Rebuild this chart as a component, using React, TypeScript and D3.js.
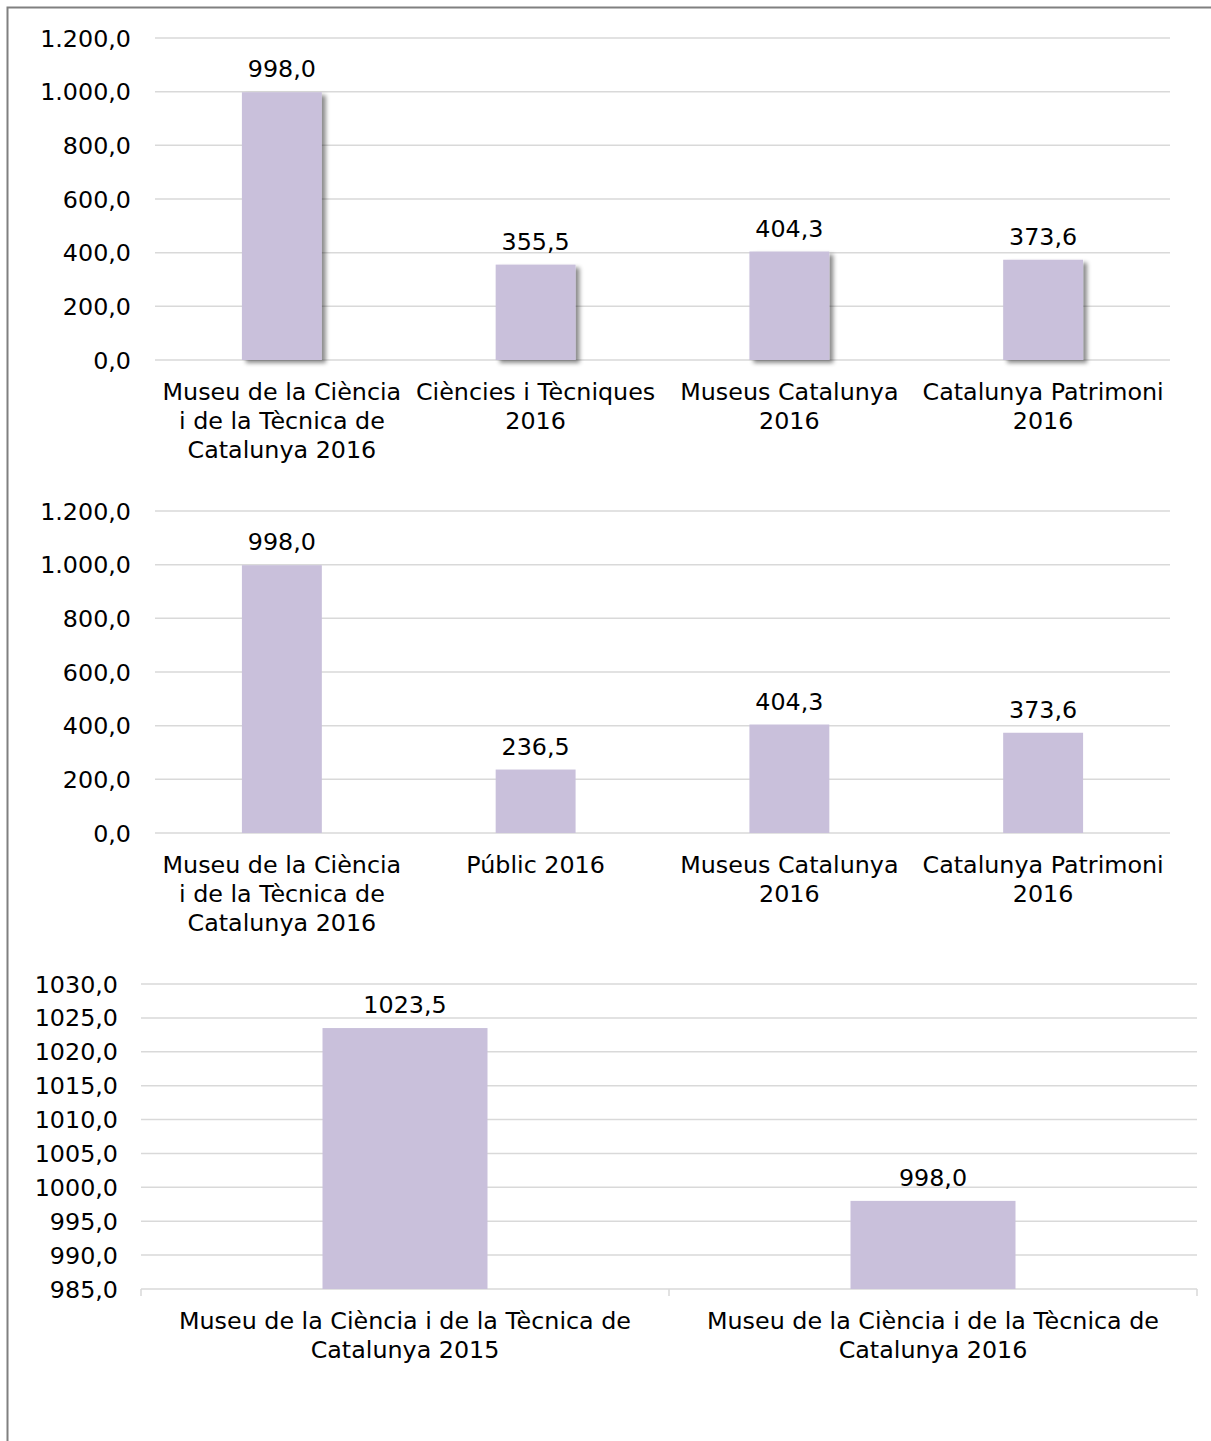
import React from "react";
import * as d3 from "d3";

// ---- data ----
const chart1Categories: string[][] = [
  ["Museu de la Ciència", "i de la Tècnica de", "Catalunya 2016"],
  ["Ciències i Tècniques", "2016"],
  ["Museus Catalunya", "2016"],
  ["Catalunya Patrimoni", "2016"],
];
const chart1Values = [998.0, 355.5, 404.3, 373.6];
const chart1Ticks = [0, 200, 400, 600, 800, 1000, 1200];

const chart2Categories: string[][] = [
  ["Museu de la Ciència", "i de la Tècnica de", "Catalunya 2016"],
  ["Públic 2016"],
  ["Museus Catalunya", "2016"],
  ["Catalunya Patrimoni", "2016"],
];
const chart2Values = [998.0, 236.5, 404.3, 373.6];
const chart2Ticks = [0, 200, 400, 600, 800, 1000, 1200];

const chart3Categories: string[][] = [
  ["Museu de la Ciència i de la Tècnica de", "Catalunya 2015"],
  ["Museu de la Ciència i de la Tècnica de", "Catalunya 2016"],
];
const chart3Values = [1023.5, 998.0];
const chart3Ticks = [985, 990, 995, 1000, 1005, 1010, 1015, 1020, 1025, 1030];

const locale = d3.formatLocale({
  decimal: ",",
  thousands: ".",
  grouping: [3],
  currency: ["", "€"],
});
const fmtGrouped = locale.format(",.1f");
const fmtPlain = locale.format(".1f");

const FONT = "'DejaVu Sans', Verdana, sans-serif";
const FS = 23.8;
const BAR = "#C9C0DB";
const GRID = "#D9D9D9";

type ChartProps = {
  id: string;
  categories: string[][];
  values: number[];
  ticks: number[];
  domain: [number, number];
  yTop: number;
  yBottom: number;
  xLeft: number;
  xRight: number;
  barRatio: number;
  labelX: number;
  fmt: (n: number) => string;
  shadow?: boolean;
  tickMarks?: boolean;
};

function BarChart(p: ChartProps) {
  const y = d3.scaleLinear().domain(p.domain).range([p.yBottom, p.yTop]);
  const x = d3
    .scaleBand<number>()
    .domain(p.values.map((_, i) => i))
    .range([p.xLeft, p.xRight])
    .padding(0);
  const bw = x.bandwidth() * p.barRatio;
  return (
    <g fontFamily={FONT} fontSize={FS} fill="#000">
      {p.ticks.map((t) => (
        <g key={t}>
          <line
            x1={p.xLeft}
            x2={p.xRight}
            y1={y(t)}
            y2={y(t)}
            stroke={GRID}
            strokeWidth={1.5}
          />
          <text x={p.labelX} y={y(t)} dy="0.36em" textAnchor="end">
            {p.fmt(t)}
          </text>
        </g>
      ))}
      {p.tickMarks &&
        [...p.values.map((_, i) => x(i)!), p.xRight].map((tx, i) => (
          <line
            key={"tm" + i}
            x1={tx}
            x2={tx}
            y1={p.yBottom}
            y2={p.yBottom + 7}
            stroke={GRID}
            strokeWidth={1.5}
          />
        ))}
      {p.values.map((v, i) => {
        const cx = x(i)! + x.bandwidth() / 2;
        return (
          <g key={"b" + i}>
            <rect
              x={cx - bw / 2}
              y={y(v)}
              width={bw}
              height={p.yBottom - y(v)}
              fill={BAR}
              filter={p.shadow ? `url(#${p.id}-sh)` : undefined}
            />
            <text x={cx} y={y(v) - 15} textAnchor="middle">
              {p.fmt(v)}
            </text>
            {p.categories[i].map((line, j) => (
              <text
                key={j}
                x={cx}
                y={p.yBottom + 40 + j * 29}
                textAnchor="middle"
              >
                {line}
              </text>
            ))}
          </g>
        );
      })}
    </g>
  );
}

export default function App() {
  return (
    <svg
      width={1211}
      height={1441}
      style={{ position: "absolute", left: 0, top: 0, background: "#fff" }}
    >
      <defs>
        <filter id="c1-sh" x="-20%" y="-20%" width="140%" height="140%">
          <feDropShadow
            dx={4}
            dy={3}
            stdDeviation={2}
            floodColor="#000"
            floodOpacity={0.45}
          />
        </filter>
      </defs>
      <rect x={0} y={0} width={1211} height={1441} fill="#fff" />
      <rect
        x={7.5}
        y={7.5}
        width={1250}
        height={1500}
        fill="none"
        stroke="#808080"
        strokeWidth={2}
      />
      <BarChart
        id="c1"
        categories={chart1Categories}
        values={chart1Values}
        ticks={chart1Ticks}
        domain={[0, 1200]}
        yTop={38}
        yBottom={360}
        xLeft={155}
        xRight={1170}
        barRatio={0.315}
        labelX={131}
        fmt={fmtGrouped}
        shadow
      />
      <BarChart
        id="c2"
        categories={chart2Categories}
        values={chart2Values}
        ticks={chart2Ticks}
        domain={[0, 1200]}
        yTop={511}
        yBottom={833}
        xLeft={155}
        xRight={1170}
        barRatio={0.315}
        labelX={131}
        fmt={fmtGrouped}
      />
      <BarChart
        id="c3"
        categories={chart3Categories}
        values={chart3Values}
        ticks={chart3Ticks}
        domain={[985, 1030]}
        yTop={984}
        yBottom={1289}
        xLeft={141}
        xRight={1197}
        barRatio={0.3125}
        labelX={118}
        fmt={fmtPlain}
        tickMarks
      />
    </svg>
  );
}
